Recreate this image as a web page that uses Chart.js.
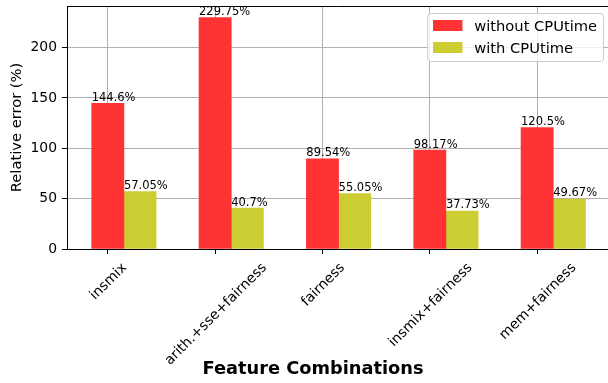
<!DOCTYPE html>
<html>
<head>
<meta charset="utf-8">
<script src="https://cdn.jsdelivr.net/npm/chart.js@4.4.1/dist/chart.umd.min.js"></script>
<style>
  html, body { margin: 0; padding: 0; background: #ffffff; }
  #wrap { width: 608px; height: 383px; }
</style>
</head>
<body>
<div id="wrap"><canvas id="chart" width="608" height="383"></canvas></div>
<script>
// ---- data ----
const categories = ['insmix', 'arith.+sse+fairness', 'fairness', 'insmix+fairness', 'mem+fairness'];
const seriesNames = ['without CPUtime', 'with CPUtime'];
const withoutCPUtime = [144.6, 229.75, 89.54, 98.17, 120.5];
const withCPUtime = [57.05, 40.7, 55.05, 37.73, 49.67];
const yTickValues = [0, 50, 100, 150, 200];
const yTitle = 'Relative error (%)';
const xTitle = 'Feature Combinations';

// ---- style ----
const FONT = 'DejaVu Sans';
const RED = '#ff3333';
const OLIVE = '#cccc33';
const GRID = '#b0b0b0';
const BAR_W = 0.3;               // bar width in category units
const X_MIN = -0.38, X_MAX = 4.66;
const Y_MAX = Math.max(...withoutCPUtime, ...withCPUtime) * 1.05;
const TICK_FS = 13.9, VALUE_FS = 11.5, LEGEND_FS = 14.7, TITLE_FS = 17.8;

const redPoints = withoutCPUtime.map((v, i) => ({ x: i, y: v }));
const olivePoints = withCPUtime.map((v, i) => ({ x: i + BAR_W, y: v }));

const decorations = {
  id: 'decorations',
  afterDatasetsDraw(chart) {
    // value labels sitting on top of each bar
    const ctx = chart.ctx;
    ctx.save();
    ctx.font = VALUE_FS + 'px "' + FONT + '"';
    ctx.fillStyle = '#000';
    ctx.textAlign = 'left';
    ctx.textBaseline = 'alphabetic';
    chart.data.datasets.forEach((ds, di) => {
      chart.getDatasetMeta(di).data.forEach((bar, i) => {
        const v = ds.data[i].y;
        ctx.fillText(v + '%', bar.x - bar.width / 2, bar.y - 2.5);
      });
    });
    ctx.restore();
  },
  afterDraw(chart) {
    const ctx = chart.ctx;
    const area = chart.chartArea;
    const xs = chart.scales.x;
    ctx.save();

    // top spine
    ctx.strokeStyle = '#000';
    ctx.lineWidth = 1;
    ctx.beginPath();
    ctx.moveTo(area.left, area.top + 0.5);
    ctx.lineTo(area.right, area.top + 0.5);
    ctx.stroke();

    // rotated category labels, centred under their ticks
    ctx.font = TICK_FS + 'px "' + FONT + '"';
    ctx.fillStyle = '#000';
    ctx.textAlign = 'center';
    ctx.textBaseline = 'alphabetic';
    const y0 = xs.top + 10;
    categories.forEach((label, i) => {
      const px = xs.getPixelForValue(i);
      const w = ctx.measureText(label).width;
      const h = 1.164 * TICK_FS;
      const W = (w + h) / Math.SQRT2;
      ctx.save();
      ctx.translate(px, y0 + W / 2);
      ctx.rotate(-Math.PI / 4);
      ctx.fillText(label, 0, 0.346 * TICK_FS);
      ctx.restore();
    });

    // y axis title
    ctx.save();
    ctx.font = LEGEND_FS + 'px "' + FONT + '"';
    ctx.translate(15.5 + 0.346 * LEGEND_FS, (area.top + area.bottom) / 2);
    ctx.rotate(-Math.PI / 2);
    ctx.fillText(yTitle, 0, 0);
    ctx.restore();

    // x axis title
    ctx.font = 'bold ' + TITLE_FS + 'px "' + FONT + '"';
    ctx.textAlign = 'center';
    ctx.fillText(xTitle, 313, 374);

    // legend, upper right inside the plot
    const fs = LEGEND_FS;
    ctx.font = fs + 'px "' + FONT + '"';
    const textW = Math.max(...seriesNames.map(s => ctx.measureText(s).width));
    const pad = 0.4 * fs, handle = 2 * fs, gap = 0.8 * fs, rowH = 22;
    const boxW = pad + handle + gap + textW + pad;
    const boxH = 48;
    const bx = area.right - 5 - boxW, by = area.top + 7;
    ctx.beginPath();
    ctx.roundRect(bx + 0.5, by + 0.5, boxW, boxH, 3);
    ctx.fillStyle = 'rgba(255,255,255,0.8)';
    ctx.fill();
    ctx.strokeStyle = '#cccccc';
    ctx.lineWidth = 1;
    ctx.stroke();
    ctx.textAlign = 'left';
    chart.data.datasets.forEach((ds, di) => {
      const rowTop = by + 7 + di * rowH;
      ctx.fillStyle = ds.backgroundColor;
      ctx.fillRect(bx + pad, rowTop, handle, 11);
      ctx.fillStyle = '#000';
      ctx.fillText(ds.label, bx + pad + handle + gap, rowTop + 11);
    });
    ctx.restore();
  }
};

new Chart(document.getElementById('chart'), {
  type: 'bar',
  data: {
    datasets: [
      { label: seriesNames[0], data: redPoints, backgroundColor: RED },
      { label: seriesNames[1], data: olivePoints, backgroundColor: OLIVE }
    ]
  },
  options: {
    responsive: false,
    animation: false,
    devicePixelRatio: 1,
    grouped: false,
    barPercentage: 1,
    categoryPercentage: 1,
    layout: { padding: { top: 6, right: 0, bottom: 0, left: 0 } },
    plugins: { legend: { display: false }, tooltip: { enabled: false } },
    scales: {
      x: {
        type: 'linear',
        min: X_MIN,
        max: X_MAX,
        offset: false,
        z: 1,
        afterBuildTicks: s => { s.ticks = categories.map((c, i) => ({ value: i })); },
        afterFit: s => { s.height = 134; s.paddingLeft = 0; s.paddingRight = 0; },
        ticks: { display: false },
        grid: { offset: false, color: GRID, lineWidth: 1, tickColor: '#000', tickLength: 5 },
        border: { color: '#000', width: 1 }
      },
      y: {
        type: 'linear',
        min: 0,
        max: Y_MAX,
        z: 1,
        afterBuildTicks: s => { s.ticks = yTickValues.map(v => ({ value: v })); },
        afterFit: s => { s.width = 67; s.paddingTop = 0; s.paddingBottom = 0; },
        ticks: {
          color: '#000',
          padding: 5,
          font: { family: FONT, size: TICK_FS }
        },
        grid: { color: GRID, lineWidth: 1, tickColor: '#000', tickLength: 5 },
        border: { color: '#000', width: 1 }
      }
    }
  },
  plugins: [decorations]
});
</script>
</body>
</html>
